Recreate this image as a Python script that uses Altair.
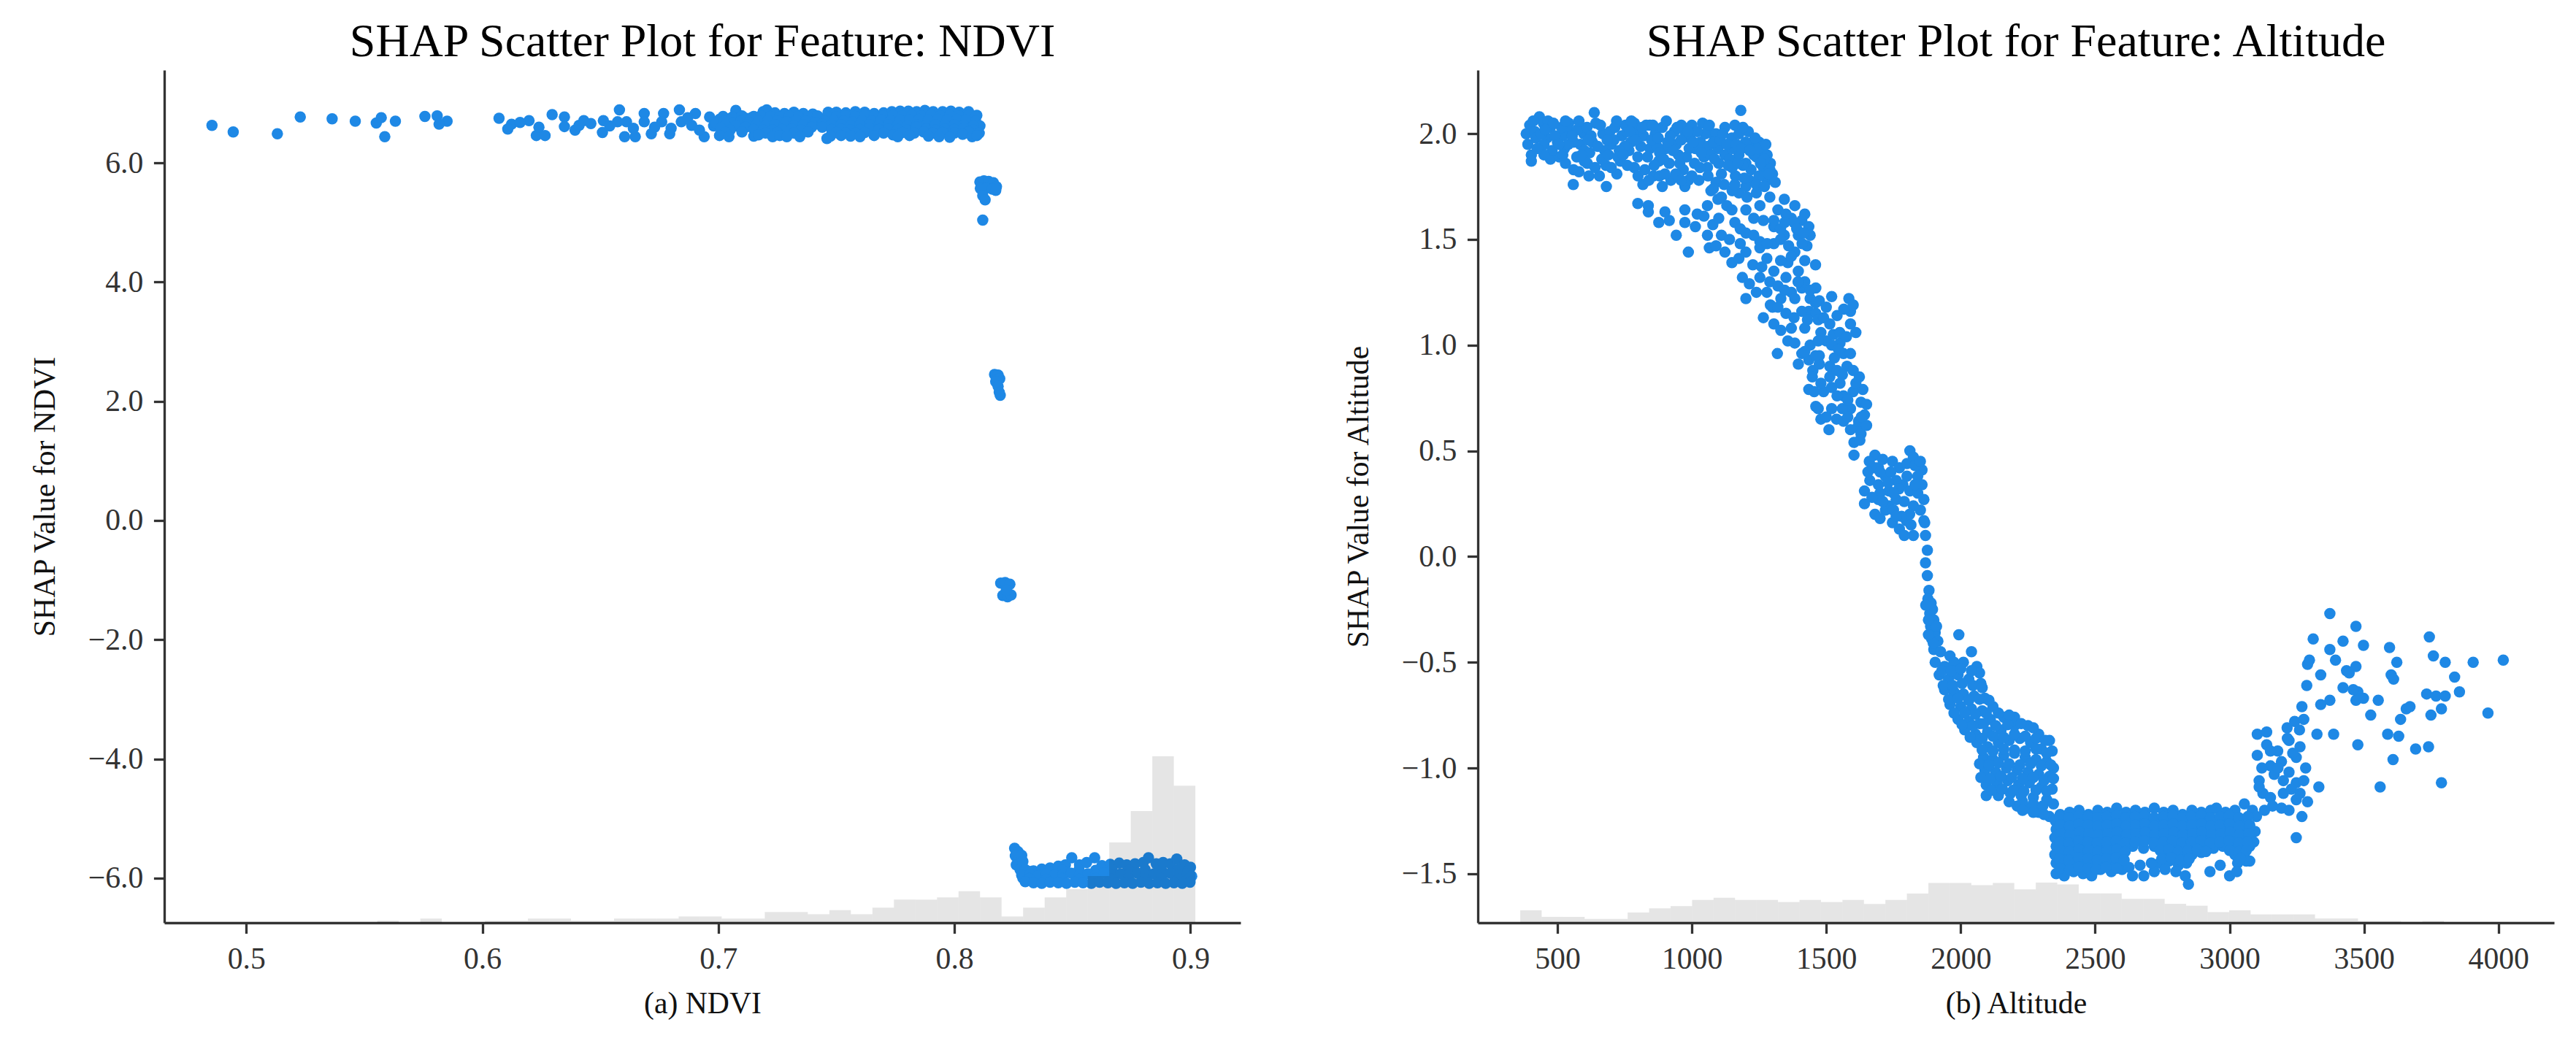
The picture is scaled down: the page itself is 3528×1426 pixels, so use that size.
import altair as alt
import pandas as pd
import numpy as np

FONT = "Liberation Serif"
BLUE = "#1E88E5"
AXC = "#333333"

# ---------------- NDVI panel: (NDVI, SHAP value) ----------------
ndvi_top_sparse = [
    (0.4855, 6.63), (0.4945, 6.52), (0.5132, 6.49), (0.5229, 6.77), (0.5364, 6.74), (0.5462, 6.70),
    (0.5551, 6.67), (0.5572, 6.76), (0.5587, 6.44), (0.5632, 6.70), (0.5757, 6.78), (0.5809, 6.79),
    (0.5851, 6.70), (0.5817, 6.65), (0.6071, 6.75), (0.6124, 6.65), (0.6108, 6.57), (0.6198, 6.71),
    (0.6229, 6.46), (0.6266, 6.46), (0.6296, 6.81), (0.6348, 6.77), (0.6348, 6.61), (0.6393, 6.55),
    (0.6430, 6.71), (0.6513, 6.71), (0.6509, 6.51), (0.6581, 6.89), (0.6573, 6.69), (0.6611, 6.69),
    (0.6603, 6.44), (0.6648, 6.44), (0.6686, 6.83), (0.6686, 6.69), (0.6716, 6.49), (0.6768, 6.83),
    (0.6760, 6.69), (0.6794, 6.49), (0.6835, 6.89), (0.6843, 6.69), (0.6903, 6.83), (0.6887, 6.63),
    (0.6940, 6.44), (0.6963, 6.77), (0.6160, 6.68), (0.6240, 6.60), (0.6410, 6.63), (0.6460, 6.66),
    (0.6540, 6.62), (0.6640, 6.58), (0.6730, 6.60), (0.6800, 6.58), (0.6870, 6.76), (0.6920, 6.55),
    (0.6980, 6.62),
]
ndvi_top_band = [
    (0.7005, 6.73), (0.7045, 6.74), (0.7074, 6.88), (0.7115, 6.75), (0.7150, 6.78), (0.7190, 6.86),
    (0.7205, 6.89), (0.7240, 6.84), (0.7280, 6.83), (0.7320, 6.85), (0.7360, 6.83), (0.7400, 6.82),
    (0.7430, 6.72), (0.7465, 6.85), (0.7500, 6.85), (0.7540, 6.84), (0.7580, 6.86), (0.7620, 6.85),
    (0.7660, 6.83), (0.7700, 6.84), (0.7735, 6.86), (0.7770, 6.87), (0.7805, 6.87), (0.7840, 6.86),
    (0.7875, 6.88), (0.7910, 6.86), (0.7950, 6.86), (0.7985, 6.87), (0.8020, 6.85), (0.8060, 6.86),
    (0.8095, 6.80),
    (0.7020, 6.78), (0.7060, 6.77), (0.7100, 6.79), (0.7140, 6.76), (0.7180, 6.79), (0.7220, 6.78),
    (0.7260, 6.77), (0.7300, 6.79), (0.7340, 6.78), (0.7380, 6.77), (0.7420, 6.79), (0.7460, 6.78),
    (0.7500, 6.77), (0.7540, 6.79), (0.7580, 6.78), (0.7620, 6.80), (0.7660, 6.78), (0.7700, 6.79),
    (0.7740, 6.80), (0.7780, 6.79), (0.7820, 6.80), (0.7860, 6.79), (0.7900, 6.80), (0.7940, 6.79),
    (0.7980, 6.80), (0.8020, 6.79), (0.8060, 6.80), (0.8090, 6.77),
    (0.6990, 6.66), (0.7025, 6.70), (0.7060, 6.66), (0.7095, 6.70), (0.7130, 6.68), (0.7170, 6.70),
    (0.7210, 6.71), (0.7250, 6.70), (0.7290, 6.69), (0.7330, 6.71), (0.7370, 6.70), (0.7410, 6.68),
    (0.7450, 6.70), (0.7490, 6.71), (0.7530, 6.70), (0.7570, 6.69), (0.7610, 6.71), (0.7650, 6.70),
    (0.7690, 6.72), (0.7730, 6.71), (0.7770, 6.72), (0.7810, 6.72), (0.7850, 6.73), (0.7890, 6.72),
    (0.7930, 6.73), (0.7970, 6.72), (0.8010, 6.73), (0.8050, 6.72), (0.8090, 6.70), (0.8108, 6.62),
    (0.7030, 6.63), (0.7075, 6.62), (0.7120, 6.64), (0.7160, 6.63), (0.7200, 6.62), (0.7240, 6.64),
    (0.7280, 6.63), (0.7320, 6.62), (0.7360, 6.64), (0.7400, 6.63), (0.7440, 6.65), (0.7480, 6.63),
    (0.7520, 6.64), (0.7560, 6.62), (0.7600, 6.63), (0.7640, 6.64), (0.7680, 6.63), (0.7720, 6.64),
    (0.7760, 6.63), (0.7800, 6.62), (0.7840, 6.64), (0.7880, 6.63), (0.7920, 6.64), (0.7960, 6.63),
    (0.8000, 6.64), (0.8040, 6.63), (0.8080, 6.62),
    (0.7010, 6.58), (0.7050, 6.55), (0.7115, 6.60), (0.7150, 6.56), (0.7190, 6.55), (0.7230, 6.55),
    (0.7270, 6.56), (0.7310, 6.57), (0.7350, 6.55), (0.7395, 6.60), (0.7440, 6.60), (0.7480, 6.56),
    (0.7520, 6.57), (0.7560, 6.55), (0.7600, 6.56), (0.7640, 6.58), (0.7680, 6.56), (0.7720, 6.57),
    (0.7760, 6.56), (0.7800, 6.55), (0.7840, 6.60), (0.7880, 6.57), (0.7920, 6.55), (0.7960, 6.57),
    (0.8000, 6.56), (0.8040, 6.58), (0.8080, 6.55), (0.8105, 6.50),
    (0.7030, 6.51), (0.7100, 6.52), (0.7200, 6.50), (0.7250, 6.51), (0.7320, 6.50), (0.7380, 6.52),
    (0.7500, 6.51), (0.7540, 6.50), (0.7580, 6.50), (0.7620, 6.51), (0.7700, 6.50), (0.7780, 6.51),
    (0.7830, 6.50), (0.7870, 6.52), (0.7910, 6.50), (0.7950, 6.51), (0.8000, 6.50), (0.8060, 6.52),
    (0.7005, 6.46), (0.7045, 6.44), (0.7150, 6.45), (0.7170, 6.47), (0.7230, 6.44), (0.7260, 6.46),
    (0.7290, 6.44), (0.7345, 6.44), (0.7460, 6.41), (0.7475, 6.45), (0.7520, 6.46), (0.7560, 6.45),
    (0.7600, 6.44), (0.7660, 6.46), (0.7740, 6.47), (0.7760, 6.44), (0.7810, 6.46), (0.7890, 6.45),
    (0.7935, 6.44), (0.7980, 6.43), (0.8035, 6.48), (0.8075, 6.44), (0.8095, 6.46),
]
ndvi_mid_clusters = [
    (0.8108, 5.68), (0.8125, 5.70), (0.8145, 5.69), (0.8165, 5.67), (0.8178, 5.60), (0.8110, 5.57),
    (0.8135, 5.58), (0.8160, 5.56), (0.8175, 5.54), (0.8120, 5.45), (0.8130, 5.38), (0.8120, 5.04),
    (0.8170, 2.45), (0.8185, 2.44), (0.8192, 2.38), (0.8175, 2.33), (0.8185, 2.25), (0.8190, 2.15),
    (0.8194, 2.10),
    (0.8196, -1.05), (0.8215, -1.04), (0.8235, -1.07), (0.8205, -1.26), (0.8225, -1.28),
    (0.8240, -1.25), (0.8220, -1.17),
]
ndvi_bottom_band = [
    (0.8255, -5.50), (0.8270, -5.56), (0.8258, -5.63), (0.8272, -5.70), (0.8262, -5.78), (0.8285, -5.62),
    (0.8290, -5.72), (0.8278, -5.86), (0.8290, -6.00),
    (0.8300, -5.86), (0.8335, -5.88), (0.8370, -5.85), (0.8405, -5.83), (0.8440, -5.80), (0.8470, -5.78),
    (0.8497, -5.66), (0.8530, -5.78), (0.8560, -5.74), (0.8594, -5.66), (0.8625, -5.79), (0.8660, -5.77),
    (0.8698, -5.75), (0.8730, -5.78), (0.8765, -5.76), (0.8800, -5.74), (0.8822, -5.66), (0.8855, -5.76),
    (0.8884, -5.74), (0.8915, -5.76), (0.8942, -5.68), (0.8975, -5.78), (0.9000, -5.82),
    (0.8318, -5.89), (0.8388, -5.88), (0.8458, -5.87), (0.8528, -5.86), (0.8598, -5.87), (0.8668, -5.86),
    (0.8738, -5.87), (0.8808, -5.86), (0.8878, -5.87), (0.8948, -5.86), (0.8990, -5.88),
    (0.8285, -5.95), (0.8320, -5.94), (0.8355, -5.96), (0.8390, -5.93), (0.8425, -5.95), (0.8460, -5.94),
    (0.8495, -5.92), (0.8530, -5.95), (0.8565, -5.93), (0.8600, -5.94), (0.8635, -5.92), (0.8670, -5.95),
    (0.8705, -5.93), (0.8740, -5.94), (0.8775, -5.92), (0.8810, -5.95), (0.8845, -5.93), (0.8880, -5.94),
    (0.8915, -5.92), (0.8950, -5.95), (0.8985, -5.93), (0.9005, -5.97),
    (0.8318, -6.01), (0.8388, -6.02), (0.8458, -6.01), (0.8528, -6.02), (0.8598, -6.01), (0.8668, -6.02),
    (0.8738, -6.01), (0.8808, -6.02), (0.8878, -6.01), (0.8948, -6.02), (0.8995, -6.01),
    (0.8300, -6.06), (0.8335, -6.08), (0.8370, -6.09), (0.8405, -6.07), (0.8440, -6.08), (0.8475, -6.09),
    (0.8510, -6.07), (0.8545, -6.08), (0.8580, -6.09), (0.8615, -6.07), (0.8650, -6.08), (0.8685, -6.09),
    (0.8720, -6.08), (0.8755, -6.09), (0.8790, -6.07), (0.8825, -6.09), (0.8860, -6.08), (0.8895, -6.09),
    (0.8930, -6.08), (0.8965, -6.09), (0.8998, -6.07),
]
# histogram of NDVI: share of samples (%) per bin
ndvi_bin_start = 0.5555
ndvi_bin_width = 0.00912
ndvi_bin_pct = [0.23, 0.0, 0.49, 0.0, 0.0, 0.23, 0.23, 0.49, 0.49, 0.23, 0.23, 0.49, 0.49, 0.49,
                0.74, 0.74, 0.49, 0.49, 1.26, 1.26, 1.00, 1.48, 1.00, 1.77, 2.71, 2.71, 2.97, 3.70,
                2.97, 0.74, 1.77, 2.97, 3.93, 5.47, 9.41, 13.11, 19.53, 16.08]

# ---------------- Altitude panel: (Altitude, SHAP value) ----------------
alt_plateau = [
    (433, 2.08), (397, 2.04), (384, 2.00), (416, 2.01), (448, 2.05), (474, 2.03), (461, 1.98), (403, 1.90),
    (403, 1.87), (474, 1.88), (507, 1.89), (542, 2.05), (546, 2.01), (500, 1.96), (526, 1.93), (559, 1.76),
    (598, 2.00), (585, 1.95), (572, 1.89), (611, 1.86), (617, 1.80), (656, 1.80), (682, 1.75), (637, 2.10),
    (643, 2.05), (676, 1.92), (669, 2.00), (695, 2.01), (714, 2.03), (734, 1.87), (721, 1.81), (753, 2.04),
    (786, 2.05), (799, 2.01), (773, 1.96), (766, 1.92), (799, 1.89), (786, 1.84), (825, 1.83), (818, 1.76),
    (844, 2.04), (864, 2.00), (844, 1.93), (877, 1.87), (857, 1.80), (890, 1.75), (922, 1.78), (916, 1.86),
    (903, 1.93), (935, 2.01), (961, 2.04), (974, 2.01), (942, 1.95), (993, 1.98), (980, 1.89), (968, 1.83),
    (974, 1.75), (987, 1.78), (1013, 1.93), (1032, 1.96), (1045, 1.89), (1026, 1.78), (1058, 1.84),
    (1078, 2.00), (1097, 1.93), (1123, 2.03), (1149, 1.98), (1175, 2.00), (1182, 2.11), (1123, 1.90),
    (1175, 1.90), (1201, 1.86), (1227, 1.95), (1240, 1.89), (1266, 1.84), (1292, 1.86), (1279, 1.78),
    (1214, 1.78), (1162, 1.80), (1110, 1.81), (1071, 1.73), (1097, 1.69), (1058, 1.66), (1175, 1.72),
    (1201, 1.75), (1240, 1.72),
    (420, 1.98), (450, 1.95), (480, 1.92), (520, 1.99), (560, 1.96), (600, 1.92), (630, 1.96), (700, 1.95),
    (740, 1.99), (760, 2.01), (820, 1.99), (830, 2.04), (870, 1.94), (890, 2.03), (920, 1.99), (950, 1.90),
    (1000, 2.04), (1010, 1.86), (1050, 2.00), (1060, 1.94), (1090, 2.00), (1100, 1.86), (1140, 1.88),
    (1150, 1.93), (1200, 1.96), (1210, 2.01), (1250, 1.96), (1260, 1.92), (1280, 1.90), (1300, 1.81),
    (1250, 1.80), (1220, 1.83), (1190, 1.85), (1150, 1.84), (1060, 1.80), (1090, 1.77), (1120, 1.76),
    (940, 1.81), (860, 1.85), (750, 1.94), (620, 1.91), (560, 1.83), (530, 1.86), (450, 1.90), (680, 1.85),
    (1150, 1.73), (1130, 1.66),
    (410, 2.06), (440, 2.00), (465, 2.06), (490, 1.99), (515, 2.03), (540, 1.95), (575, 2.02), (610, 2.03),
    (625, 1.99), (650, 1.94), (665, 1.88), (690, 1.90), (710, 1.97), (730, 1.92), (775, 2.06), (810, 1.94),
    (850, 1.97), (880, 1.91), (905, 2.06), (930, 1.92), (960, 1.97), (990, 1.93), (1020, 2.01), (1040, 2.05),
    (1070, 1.90), (1080, 1.96), (1105, 1.97), (1130, 1.95), (1165, 1.95), (1185, 1.93), (1230, 1.90),
    (1245, 1.93), (1270, 1.88), (1290, 1.83), (1195, 1.79), (1240, 1.76), (1110, 1.70), (1030, 1.84),
    (880, 1.80), (800, 1.80), (700, 1.84), (600, 1.87), (520, 1.90), (1270, 1.75), (1310, 1.77),
    (390, 1.95), (425, 1.93), (455, 2.02), (485, 2.05), (505, 1.95), (530, 2.06), (555, 1.99), (580, 2.06),
    (590, 1.90), (615, 1.97), (660, 2.04), (685, 1.97), (720, 2.06), (725, 1.89), (745, 1.90), (770, 2.01),
    (790, 1.97), (815, 2.03), (835, 1.89), (855, 2.04), (875, 1.98), (895, 1.88), (910, 1.96), (945, 2.03),
    (955, 1.86), (985, 2.01), (1005, 1.96), (1035, 1.91), (1065, 2.04), (1085, 1.88), (1115, 2.00),
    (1135, 1.85), (1160, 2.04), (1170, 1.86), (1190, 2.03), (1215, 1.92), (1235, 1.98), (1255, 1.86),
    (1275, 1.95), (1285, 1.81), (1205, 1.70), (1160, 1.76), (1080, 1.74), (1000, 1.80), (960, 1.78),
    (900, 1.81), (840, 1.78), (760, 1.85), (640, 1.84), (580, 1.82),
]
alt_descent = [
    (799, 1.67), (838, 1.66), (838, 1.63), (877, 1.58), (916, 1.59), (942, 1.52), (974, 1.58), (1013, 1.56),
    (987, 1.44), (1065, 1.46), (974, 1.64), (1045, 1.61), (1078, 1.57), (1058, 1.52), (1110, 1.52),
    (1149, 1.64), (1201, 1.64), (1253, 1.66), (1266, 1.59), (1305, 1.56), (1344, 1.69), (1383, 1.66),
    (1409, 1.59), (1435, 1.56), (1396, 1.52), (1428, 1.47), (1383, 1.44), (1344, 1.52), (1305, 1.59),
    (1201, 1.53), (1253, 1.49), (1305, 1.48), (1123, 1.44), (1149, 1.39), (1175, 1.41), (1201, 1.44),
    (1227, 1.38), (1253, 1.46), (1279, 1.41), (1305, 1.35), (1357, 1.39), (1396, 1.35),
    (1370, 1.60), (1420, 1.62), (1320, 1.64), (1290, 1.70), (1330, 1.55), (1230, 1.60), (1160, 1.58),
    (1100, 1.60), (1020, 1.62), (900, 1.63), (1440, 1.52), (1410, 1.48), (1090, 1.47), (1180, 1.48),
    (1188, 1.32), (1214, 1.29), (1253, 1.32), (1279, 1.25), (1201, 1.22), (1266, 1.13), (1292, 1.19),
    (1331, 1.22), (1370, 1.25), (1409, 1.27), (1461, 1.27), (1474, 1.21), (1435, 1.16), (1383, 1.22),
    (1409, 1.16), (1461, 1.15), (1513, 1.10), (1584, 1.22), (1590, 1.16), (1590, 1.10), (1305, 1.10),
    (1331, 1.07), (1357, 1.02), (1318, 0.96), (1383, 1.01), (1409, 0.96), (1396, 0.91), (1435, 0.93),
    (1474, 0.95), (1500, 1.02), (1526, 1.05), (1551, 1.01), (1564, 0.96), (1590, 0.96), (1577, 0.90),
    (1513, 0.90), (1474, 0.91),
    (1440, 1.22), (1500, 1.18), (1550, 1.06), (1480, 1.06), (1420, 1.08), (1350, 1.15), (1530, 0.94),
    (1450, 0.88),
    (1448, 0.85), (1435, 0.79), (1461, 0.71), (1480, 0.65), (1513, 0.85), (1551, 0.82), (1564, 0.76),
    (1590, 0.70), (1623, 0.85), (1636, 0.79), (1629, 0.73), (1642, 0.67), (1538, 0.65), (1564, 0.64),
    (1616, 0.61), (1603, 0.54), (1629, 0.58), (1603, 0.48),
    (1490, 0.78), (1520, 0.70), (1600, 0.78), (1540, 0.88), (1470, 0.70), (1620, 0.64), (1650, 0.62),
    (1500, 0.66), (1580, 0.66),
    (1330, 1.50), (1360, 1.47), (1290, 1.30), (1240, 1.25), (1320, 1.28), (1350, 1.32), (1420, 1.30),
    (1460, 1.38), (1420, 1.40), (1380, 1.58), (1350, 1.62), (1300, 1.18), (1370, 1.08), (1440, 1.00),
    (1470, 1.12), (1520, 1.23), (1540, 1.14), (1565, 1.17), (1610, 1.06), (1600, 0.88), (1560, 0.70),
    (1510, 0.60), (1625, 0.55), (1650, 0.72), (1455, 0.78),
    (1345, 1.58), (1390, 1.55), (1415, 1.53), (1370, 1.42), (1330, 1.40), (1280, 1.48), (1230, 1.52),
    (1180, 1.55), (1140, 1.50), (1260, 1.37), (1320, 1.18), (1345, 1.26), (1395, 1.30), (1440, 1.26),
    (1460, 1.20), (1380, 1.13), (1430, 1.12), (1490, 1.13), (1520, 1.00), (1470, 1.02), (1420, 0.97),
    (1545, 0.98), (1575, 1.04), (1600, 1.19), (1560, 0.86), (1520, 0.80), (1480, 0.82), (1580, 0.74),
    (1610, 0.82), (1630, 0.66), (1540, 0.76), (1590, 0.60), (1460, 0.95),
]
alt_step = [
    (1681, 0.48), (1694, 0.42), (1746, 0.45), (1772, 0.42), (1811, 0.50), (1824, 0.47), (1856, 0.41),
    (1662, 0.36), (1642, 0.31), (1642, 0.25), (1694, 0.34), (1694, 0.27), (1681, 0.20), (1733, 0.31),
    (1733, 0.24), (1746, 0.16), (1772, 0.13), (1785, 0.34), (1811, 0.31), (1824, 0.24), (1798, 0.17),
    (1824, 0.10), (1856, 0.34), (1863, 0.27), (1863, 0.17),
    (1700, 0.30), (1720, 0.38), (1760, 0.36), (1760, 0.27), (1790, 0.26), (1810, 0.20), (1840, 0.30),
    (1840, 0.38), (1670, 0.28), (1720, 0.22), (1780, 0.19), (1850, 0.22),
    (1680, 0.42), (1710, 0.46), (1740, 0.40), (1800, 0.44), (1830, 0.43), (1750, 0.22), (1790, 0.10),
    (1700, 0.18), (1655, 0.40),
    (1660, 0.45), (1700, 0.40), (1730, 0.35), (1770, 0.32), (1800, 0.38), (1850, 0.45), (1815, 0.15),
    (1760, 0.19), (1710, 0.26), (1750, 0.30), (1830, 0.34),
    (1869, 0.10), (1876, 0.03), (1869, -0.03), (1876, -0.09), (1882, -0.16), (1866, 0.16),
    (1878, -0.20), (1890, -0.22), (1885, -0.27), (1900, -0.30), (1888, -0.33), (1905, -0.36),
    (1892, -0.39), (1915, -0.40), (1993, -0.37), (2040, -0.45), (1900, -0.44), (1925, -0.45),
    (1895, -0.25), (1880, -0.30), (1898, -0.41), (1880, -0.37), (1910, -0.33), (1870, -0.23),
    (1960, -0.47), (1905, -0.50), (1940, -0.52), (1975, -0.50), (2010, -0.50), (2060, -0.52),
    (2070, -0.55), (1920, -0.56), (1955, -0.58), (1990, -0.56), (2030, -0.58), (2075, -0.60),
    (1940, -0.63), (1975, -0.64), (2010, -0.65), (2050, -0.66), (2090, -0.67), (1960, -0.70),
    (2000, -0.71), (2040, -0.72), (2080, -0.73), (2120, -0.71), (1990, -0.77), (2030, -0.78),
    (2070, -0.79), (2110, -0.77), (2160, -0.76), (2200, -0.76), (2015, -0.82), (2055, -0.84),
    (2100, -0.83), (2150, -0.82), (2200, -0.80), (2250, -0.80), (2290, -0.84), (2330, -0.87),
    (2060, -0.88), (2100, -0.90), (2140, -0.88), (2180, -0.87), (2220, -0.86), (2260, -0.88),
    (2300, -0.91), (2340, -0.92), (2085, -0.95), (2120, -0.96), (2160, -0.94), (2200, -0.93),
    (2240, -0.95), (2280, -0.96), (2320, -0.97), (2345, -1.00), (2090, -1.01), (2130, -1.02),
    (2170, -1.00), (2210, -1.01), (2250, -1.02), (2290, -1.03), (2330, -1.04), (2095, -1.08),
    (2135, -1.07), (2175, -1.06), (2215, -1.08), (2255, -1.07), (2300, -1.09), (2340, -1.10),
    (2095, -1.13), (2140, -1.13), (2185, -1.12), (2225, -1.13), (2270, -1.14), (2320, -1.15),
    (2210, -1.18), (2250, -1.19), (2290, -1.21), (2330, -1.23),
    (1930, -0.54), (1965, -0.54), (2000, -0.53), (2040, -0.54),
    (1935, -0.61), (1970, -0.61), (2005, -0.60), (2045, -0.61), (2080, -0.62),
    (1955, -0.675), (1990, -0.67), (2030, -0.68), (2070, -0.675), (2105, -0.68),
    (1975, -0.74), (2015, -0.74), (2055, -0.745), (2095, -0.74), (2140, -0.74), (2180, -0.75),
    (2005, -0.795), (2045, -0.80), (2085, -0.79), (2130, -0.80), (2175, -0.795), (2225, -0.79), (2270, -0.81),
    (2035, -0.855), (2080, -0.86), (2120, -0.85), (2160, -0.855), (2200, -0.84), (2240, -0.85), (2280, -0.86),
    (2315, -0.87),
    (2080, -0.915), (2120, -0.92), (2160, -0.91), (2200, -0.915), (2240, -0.92), (2280, -0.91), (2320, -0.93),
    (2070, -0.98), (2105, -0.985), (2140, -0.975), (2180, -0.98), (2220, -0.985), (2260, -0.98), (2300, -0.99),
    (2335, -0.985),
    (2075, -1.045), (2110, -1.05), (2150, -1.04), (2190, -1.045), (2230, -1.05), (2270, -1.045), (2310, -1.06),
    (2345, -1.05),
    (2115, -1.105), (2155, -1.10), (2195, -1.105), (2235, -1.11), (2280, -1.105), (2320, -1.11),
    (2180, -1.16), (2230, -1.16), (2270, -1.17), (2305, -1.18), (2345, -1.17),
    (2230, -1.20), (2270, -1.21), (2310, -1.22),
]
alt_trough = [
    (2370, -1.22), (2405, -1.21), (2440, -1.20), (2475, -1.22), (2510, -1.20), (2545, -1.21), (2580, -1.19),
    (2615, -1.21), (2650, -1.20), (2685, -1.21), (2720, -1.19), (2755, -1.21), (2790, -1.20), (2825, -1.22),
    (2860, -1.20), (2895, -1.21), (2930, -1.20), (2951, -1.19), (2985, -1.21), (3020, -1.20), (3055, -1.17),
    (3085, -1.20),
    (2352, -1.25), (2387, -1.26), (2422, -1.25), (2457, -1.24), (2492, -1.26), (2527, -1.25), (2562, -1.24),
    (2597, -1.26), (2632, -1.25), (2667, -1.24), (2702, -1.26), (2737, -1.25), (2772, -1.24), (2807, -1.26),
    (2842, -1.25), (2877, -1.24), (2912, -1.26), (2947, -1.25), (2982, -1.24), (3017, -1.26), (3052, -1.25),
    (3100, -1.23),
    (2355, -1.29), (2390, -1.30), (2425, -1.29), (2460, -1.28), (2495, -1.30), (2530, -1.29), (2565, -1.28),
    (2600, -1.30), (2635, -1.29), (2670, -1.28), (2705, -1.30), (2740, -1.29), (2775, -1.28), (2810, -1.30),
    (2845, -1.29), (2880, -1.28), (2915, -1.30), (2950, -1.29), (2985, -1.28), (3020, -1.30), (3055, -1.29),
    (3095, -1.30),
    (2350, -1.33), (2385, -1.34), (2420, -1.33), (2455, -1.32), (2490, -1.34), (2525, -1.33), (2560, -1.32),
    (2595, -1.34), (2630, -1.33), (2665, -1.34), (2700, -1.33), (2735, -1.32), (2770, -1.34), (2805, -1.33),
    (2840, -1.32), (2875, -1.34), (2910, -1.33), (2945, -1.32), (2980, -1.34), (3015, -1.33), (3050, -1.32),
    (3090, -1.35),
    (2355, -1.37), (2390, -1.38), (2425, -1.37), (2460, -1.36), (2495, -1.38), (2530, -1.37), (2565, -1.36),
    (2600, -1.38), (2640, -1.37), (2680, -1.38), (2720, -1.37), (2760, -1.36), (2795, -1.38), (2830, -1.37),
    (2865, -1.38), (2900, -1.37), (2940, -1.38), (2975, -1.37), (3010, -1.36), (3045, -1.38), (3075, -1.37),
    (2350, -1.41), (2385, -1.42), (2420, -1.41), (2455, -1.40), (2490, -1.42), (2525, -1.41), (2560, -1.40),
    (2595, -1.42), (2755, -1.41), (2790, -1.42), (2825, -1.40), (2860, -1.41), (2895, -1.40), (3020, -1.41),
    (3055, -1.42), (3075, -1.44),
    (2355, -1.45), (2390, -1.46), (2425, -1.45), (2460, -1.44), (2495, -1.46), (2530, -1.45), (2565, -1.44),
    (2600, -1.46), (2740, -1.45), (2775, -1.44), (2810, -1.46), (2840, -1.45), (2965, -1.46), (3030, -1.45),
    (3062, -1.44),
    (2355, -1.50), (2385, -1.51), (2420, -1.49), (2455, -1.50), (2487, -1.51), (2520, -1.48), (2560, -1.49),
    (2600, -1.48), (2639, -1.51), (2681, -1.51), (2720, -1.49), (2760, -1.48), (2800, -1.49), (2835, -1.51),
    (2847, -1.55), (2927, -1.49), (3000, -1.51), (3027, -1.49), (2626, -1.47), (2667, -1.46), (2709, -1.45),
    (2368, -1.23), (2404, -1.235), (2439, -1.225), (2474, -1.23), (2509, -1.235), (2544, -1.23), (2579, -1.225),
    (2614, -1.235), (2649, -1.23), (2684, -1.225), (2719, -1.235), (2754, -1.23), (2789, -1.225), (2824, -1.235),
    (2859, -1.23), (2894, -1.225), (2929, -1.235), (2964, -1.23), (2999, -1.225), (3034, -1.235), (3068, -1.23),
    (2370, -1.27), (2405, -1.275), (2440, -1.265), (2475, -1.27), (2510, -1.275), (2545, -1.27), (2580, -1.265),
    (2615, -1.275), (2650, -1.27), (2685, -1.265), (2720, -1.275), (2755, -1.27), (2790, -1.265), (2825, -1.275),
    (2860, -1.27), (2895, -1.265), (2930, -1.275), (2965, -1.27), (3000, -1.265), (3035, -1.275), (3075, -1.27),
    (2372, -1.31), (2407, -1.315), (2442, -1.305), (2477, -1.31), (2512, -1.315), (2547, -1.31), (2582, -1.305),
    (2617, -1.315), (2652, -1.31), (2687, -1.305), (2722, -1.315), (2757, -1.31), (2792, -1.305), (2827, -1.315),
    (2862, -1.31), (2897, -1.305), (2932, -1.315), (2967, -1.31), (3002, -1.305), (3037, -1.315), (3072, -1.31),
    (2368, -1.35), (2403, -1.355), (2438, -1.345), (2473, -1.35), (2508, -1.355), (2543, -1.35), (2578, -1.345),
    (2613, -1.355), (2648, -1.35), (2683, -1.345), (2718, -1.355), (2753, -1.35), (2788, -1.345), (2823, -1.355),
    (2858, -1.35), (2893, -1.345), (2928, -1.355), (2963, -1.35), (2998, -1.345), (3033, -1.355), (3066, -1.35),
    (2370, -1.39), (2405, -1.395), (2440, -1.385), (2475, -1.39), (2510, -1.395), (2545, -1.39), (2580, -1.385),
    (2612, -1.395), (2742, -1.39), (2775, -1.385), (2810, -1.395), (2845, -1.39), (2880, -1.385), (2912, -1.395),
    (3000, -1.39), (3035, -1.395), (3062, -1.39),
    (2368, -1.43), (2403, -1.435), (2438, -1.425), (2473, -1.43), (2508, -1.435), (2543, -1.43), (2578, -1.425),
    (2608, -1.435), (2748, -1.43), (2783, -1.425), (2818, -1.435), (2850, -1.43), (3040, -1.43),
    (2370, -1.475), (2405, -1.48), (2440, -1.47), (2473, -1.475), (2505, -1.48), (2540, -1.47), (2580, -1.475),
]
alt_rise = [
    (3103, -0.84), (3138, -0.83), (3103, -0.94), (3138, -0.89), (3179, -0.92), (3214, -0.81), (3242, -0.78),
    (3276, -0.77), (3221, -0.87), (3262, -0.90), (3248, -0.95), (3152, -0.99), (3193, -0.97), (3221, -1.02),
    (3283, -1.00), (3166, -1.03), (3110, -1.06), (3124, -1.12), (3110, -1.09), (3152, -1.14), (3200, -1.12),
    (3248, -1.07), (3276, -1.06), (3290, -1.16), (3248, -1.15), (3193, -1.19), (3221, -1.20), (3269, -1.23),
    (3248, -1.33), (3332, -1.09), (3269, -0.71), (3325, -0.84), (3387, -0.84), (3477, -0.89), (3560, -1.09),
    (3608, -0.96), (3692, -0.91), (3740, -0.90), (3788, -1.07), (3588, -0.84), (3629, -0.85),
    (3152, -0.92), (3180, -1.00), (3235, -0.93), (3200, -1.06), (3230, -1.10), (3160, -1.18), (3130, -1.20),
    (3262, -1.12), (3215, -0.86), (3260, -0.82), (3120, -1.00),
    (3373, -0.27), (3470, -0.33), (3311, -0.39), (3422, -0.40), (3373, -0.44), (3498, -0.42), (3595, -0.43),
    (3743, -0.38), (3290, -0.51), (3297, -0.49), (3394, -0.49), (3435, -0.54), (3470, -0.52), (3622, -0.50),
    (3601, -0.56), (3758, -0.47), (3802, -0.50), (3906, -0.50), (4018, -0.49), (3837, -0.57), (3339, -0.56),
    (3287, -0.61), (3422, -0.62), (3477, -0.64), (3470, -0.68), (3553, -0.68), (3498, -0.67), (3733, -0.65),
    (3768, -0.66), (3802, -0.66), (3855, -0.64), (3373, -0.68), (3339, -0.70), (3525, -0.75), (3657, -0.72),
    (3671, -0.71), (3636, -0.77), (3749, -0.75), (3788, -0.72), (3961, -0.74), (3445, -0.55), (3610, -0.58),
    (3460, -0.63),
]
# histogram of Altitude: share of samples (%) per bin
alt_bin_start = 361.6
alt_bin_width = 79.9
alt_bin_pct = [1.46, 0.69, 0.69, 0.45, 0.45, 1.20, 1.69, 1.95, 2.68, 2.94, 2.68, 2.68, 2.43, 2.68,
               2.43, 2.68, 2.20, 2.68, 3.43, 4.66, 4.66, 4.40, 4.66, 3.92, 4.70, 4.50, 3.45, 3.45,
               2.80, 2.80, 2.22, 2.00, 1.25, 1.46, 0.98, 0.98, 0.98, 0.50, 0.50, 0.21, 0.21, 0.12,
               0.21, 0.06, 0.06, 0.06]


def points_df(*groups):
    rows = [p for g in groups for p in g]
    return pd.DataFrame(rows, columns=["feature", "shap"])


def hist_df(start, width, pct):
    left = start + width * np.arange(len(pct))
    return pd.DataFrame({"b0": left, "b1": left + width, "pct": pct})


W, H = 1474, 1168


def panel(pts, hist, xdom, ydom, xticks, yticks, xfmt, yfmt, title, xtitle, ytitle):
    xs = alt.Scale(domain=xdom, nice=False, zero=False)
    ys = alt.Scale(domain=ydom, nice=False, zero=False)
    xaxis = alt.Axis(values=xticks, format=xfmt, title=xtitle, titlePadding=20)
    yaxis = alt.Axis(values=yticks, format=yfmt, title=ytitle, titlePadding=37)
    dots = alt.Chart(pts).mark_circle(size=240, color=BLUE, opacity=1).encode(
        x=alt.X("feature:Q", scale=xs, axis=xaxis),
        y=alt.Y("shap:Q", scale=ys, axis=yaxis),
    )
    bars = alt.Chart(hist).mark_rect(color="#000000", opacity=0.1).encode(
        x=alt.X("b0:Q", scale=xs, axis=xaxis),
        x2="b1:Q",
        y=alt.Y("pct:Q", scale=alt.Scale(domain=[0, 100]), axis=None),
        y2=alt.datum(0),
    )
    return alt.layer(dots, bars).resolve_scale(y="independent").properties(
        width=W, height=H, title=alt.TitleParams(title)
    )


left = panel(
    points_df(ndvi_top_sparse, ndvi_top_band, ndvi_mid_clusters, ndvi_bottom_band),
    hist_df(ndvi_bin_start, ndvi_bin_width, ndvi_bin_pct),
    [0.4653, 0.9212], [-6.75, 7.558],
    [0.5, 0.6, 0.7, 0.8, 0.9], [-6, -4, -2, 0, 2, 4, 6], ".1f", ".1f",
    "SHAP Scatter Plot for Feature: NDVI", "(a) NDVI", "SHAP Value for NDVI",
)
right = panel(
    points_df(alt_plateau, alt_descent, alt_step, alt_trough, alt_rise),
    hist_df(alt_bin_start, alt_bin_width, alt_bin_pct),
    [204, 4207], [-1.732, 2.301],
    [500, 1000, 1500, 2000, 2500, 3000, 3500, 4000], [-1.5, -1.0, -0.5, 0.0, 0.5, 1.0, 1.5, 2.0], "d", ".1f",
    "SHAP Scatter Plot for Feature: Altitude", "(b) Altitude", "SHAP Value for Altitude",
)

chart = alt.hconcat(left, right, spacing=141).properties(
    padding={"left": 33, "top": 18, "right": 5, "bottom": 5}
).configure_view(stroke=None).configure_axis(
    grid=False,
    domainColor=AXC, domainWidth=3.3,
    tickColor=AXC, tickWidth=3.3, tickSize=14.6,
    labelPadding=14.6, labelFont=FONT, labelFontSize=41.7, labelColor=AXC,
    titleFont=FONT, titleFontSize=41.7, titleColor="#111111", titleFontWeight="normal",
).configure_title(
    font=FONT, fontSize=64, fontWeight="normal", color="#000000", anchor="middle", offset=6
)

chart.save("out.html", embed_options={"renderer": "svg", "actions": False})
